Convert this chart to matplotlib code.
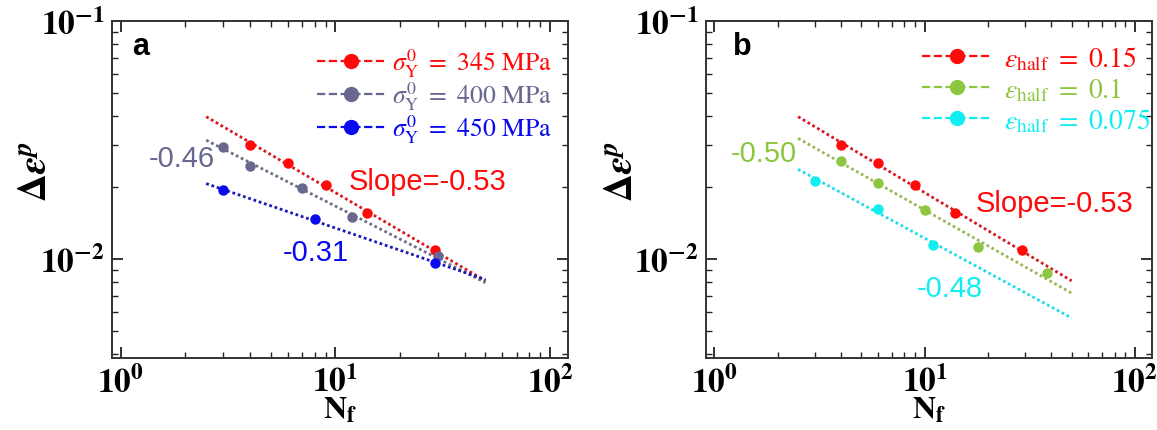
import numpy as np
import matplotlib
matplotlib.use("Agg")
import matplotlib.pyplot as plt
from matplotlib.lines import Line2D
from matplotlib.ticker import LogLocator, FuncFormatter, NullFormatter

plt.rcParams['mathtext.fontset'] = 'stix'
plt.rcParams['font.family'] = ['Liberation Serif', 'DejaVu Serif']

# panel a: yield stress series (N_f, delta eps_p)
nf_345 = [4, 6, 9, 14, 29]
de_345 = [0.0302, 0.0253, 0.0205, 0.0156, 0.0109]
nf_400 = [3, 4, 7, 12, 30]
de_400 = [0.0295, 0.0247, 0.0199, 0.0150, 0.0103]
nf_450 = [3, 8, 29]
de_450 = [0.0195, 0.0147, 0.0096]

# panel b: eps_half series
nf_e15 = [4, 6, 9, 14, 29]
de_e15 = [0.0302, 0.0253, 0.0205, 0.0156, 0.0109]
nf_e10 = [4, 6, 10, 18, 38]
de_e10 = [0.0257, 0.0209, 0.0160, 0.0112, 0.0087]
nf_e075 = [3, 6, 11]
de_e075 = [0.0213, 0.0163, 0.0115]

slopes_a = [-0.53, -0.46, -0.31]
slopes_b = [-0.53, -0.50, -0.48]
fit_range = [2.5, 50]

labels_a = [r'$\sigma_{\mathrm{Y}}^{0}\ =\ 345\ \mathrm{MPa}$',
            r'$\sigma_{\mathrm{Y}}^{0}\ =\ 400\ \mathrm{MPa}$',
            r'$\sigma_{\mathrm{Y}}^{0}\ =\ 450\ \mathrm{MPa}$']
labels_b = [r'$\varepsilon_{\mathrm{half}}\ =\ 0.15$',
            r'$\varepsilon_{\mathrm{half}}\ =\ 0.1$',
            r'$\varepsilon_{\mathrm{half}}\ =\ 0.075$']

cols_a = ['#ff0a0a', '#676790', '#0a0aee']
line_a = ['#d81820', '#6e6e88', '#1a1ab8']
cols_b = ['#ff0a0a', '#8dc640', '#10eef2']
line_b = ['#d81820', '#98b858', '#20dde8']


def fit_line(nf, de, s):
    # fixed slope, least squares intercept in log space
    c = np.mean(np.log10(de) - s * np.log10(nf))
    x = np.array(fit_range, dtype=float)
    return x, 10 ** (c + s * np.log10(x))


def style_axis(ax, tag, tagx, ylx):
    ax.set_xscale('log')
    ax.set_yscale('log')
    ax.set_xlim(0.91, 121)
    ax.set_ylim(0.00384, 0.1)
    for sp in ax.spines.values():
        sp.set_linewidth(1.4)
        sp.set_color('#333333')
    ax.xaxis.set_major_locator(LogLocator(base=10, numticks=10))
    ax.yaxis.set_major_locator(LogLocator(base=10, numticks=10))
    ax.xaxis.set_minor_locator(LogLocator(base=10, subs=np.arange(2, 10), numticks=10))
    ax.yaxis.set_minor_locator(LogLocator(base=10, subs=np.arange(2, 10), numticks=10))
    fmt = FuncFormatter(lambda v, p: r'$\mathbf{10^{%d}}$' % int(round(np.log10(v))))
    ax.xaxis.set_major_formatter(fmt)
    ax.yaxis.set_major_formatter(fmt)
    ax.xaxis.set_minor_formatter(NullFormatter())
    ax.yaxis.set_minor_formatter(NullFormatter())
    ax.tick_params(which='both', direction='in', top=True, right=True,
                   color='#222222', labelsize=24)
    ax.tick_params(which='major', length=8, width=1.3, pad=5)
    ax.tick_params(which='minor', length=4, width=1.0)
    ax.set_xlabel(r'$\mathbf{N}_{\mathbf{f}}$', fontsize=23, labelpad=-2)
    ax.set_ylabel(r'$\mathbf{\Delta}\mathbfit{\varepsilon}^{\mathbfit{p}}$', fontsize=28)
    ax.yaxis.set_label_coords(ylx, 0.555)
    ax.text(tagx, 0.925, tag, transform=ax.transAxes, fontsize=22,
            fontweight='bold', family='Liberation Sans', va='center', ha='left')


fig = plt.figure(figsize=(11.57, 4.31), dpi=100)
ax1 = fig.add_axes([0.0968, 0.167, 0.394, 0.782])
ax2 = fig.add_axes([0.610, 0.167, 0.386, 0.782])

# panel a
handles = []
for nf, de, s, c, lc, lab in zip([nf_345, nf_400, nf_450], [de_345, de_400, de_450],
                                 slopes_a, cols_a, line_a, labels_a):
    x, y = fit_line(nf, de, s)
    ax1.plot(x, y, ls=(0, (1, 1)), lw=2, color=lc)
    ax1.plot(nf, de, 'o', ms=7.5, color=c, mec='none')
    handles.append(Line2D([], [], ls='--', lw=1.6, color=c, marker='o', ms=11, mec='none', label=lab))
style_axis(ax1, 'a', 0.045, -0.125)
ax1.legend(handles=handles, loc='upper right', bbox_to_anchor=(0.966, 0.925), frameon=False,
           fontsize=18.5, handlelength=2.7, handletextpad=0.25, labelspacing=0.0,
           borderaxespad=0, borderpad=0, labelcolor='linecolor', numpoints=1)
ax1.text(26.9, 0.0213, 'Slope=-0.53', color=cols_a[0], fontsize=21, family='Liberation Sans',
         ha='center', va='center')
ax1.text(1.93, 0.0265, '-0.46', color=cols_a[1], fontsize=21, family='Liberation Sans',
         ha='center', va='center')
ax1.text(8.1, 0.01067, '-0.31', color=cols_a[2], fontsize=21, family='Liberation Sans',
         ha='center', va='center')

# panel b
handles = []
for nf, de, s, c, lc, lab in zip([nf_e15, nf_e10, nf_e075], [de_e15, de_e10, de_e075],
                                 slopes_b, cols_b, line_b, labels_b):
    x, y = fit_line(nf, de, s)
    ax2.plot(x, y, ls=(0, (1, 1)), lw=2, color=lc)
    ax2.plot(nf, de, 'o', ms=7.5, color=c, mec='none')
    handles.append(Line2D([], [], ls='--', lw=1.6, color=c, marker='o', ms=11, mec='none', label=lab))
style_axis(ax2, 'b', 0.06, -0.145)
ax2.legend(handles=handles, loc='upper right', bbox_to_anchor=(0.997, 0.93), frameon=False,
           fontsize=20, handlelength=2.5, handletextpad=0.45, labelspacing=0.12,
           borderaxespad=0, borderpad=0, labelcolor='linecolor', numpoints=1)
ax2.text(41.5, 0.0172, 'Slope=-0.53', color=cols_b[0], fontsize=21, family='Liberation Sans',
         ha='center', va='center')
ax2.text(1.71, 0.0279, '-0.50', color=cols_b[1], fontsize=21, family='Liberation Sans',
         ha='center', va='center')
ax2.text(13.1, 0.00753, '-0.48', color=cols_b[2], fontsize=21, family='Liberation Sans',
         ha='center', va='center')

fig.savefig('out.png', dpi=100)
